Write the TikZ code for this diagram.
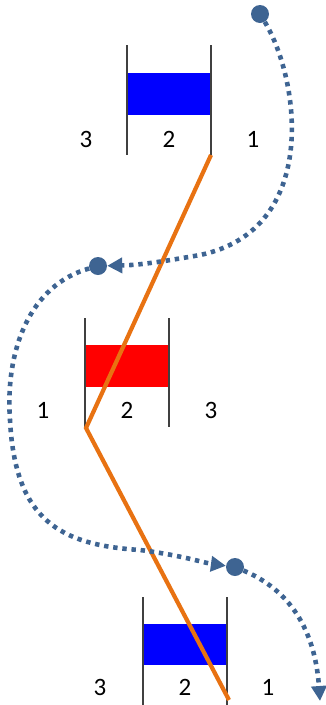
\documentclass[tikz,border=0pt]{standalone}
\usepackage{fontspec}
\setmainfont{Carlito}
\usetikzlibrary{arrows.meta}
\definecolor{bardark}{RGB}{64,64,64}
\definecolor{flowblue}{RGB}{62,100,146}
\definecolor{pathorange}{RGB}{232,114,18}
\tikzset{
  x=1pt,y=-1pt,
  wall/.style={draw=bardark,line width=2.4pt},
  lbl/.style={font=\fontsize{25}{28}\selectfont,text=black,inner sep=0pt},
  flow/.style={draw=flowblue,line width=4.6pt,dash pattern=on 4.4pt off 4.8pt,
     -{Triangle[length=15pt,width=15pt,flowblue]}},
  blob/.style={circle,fill=flowblue,minimum size=18pt,inner sep=0pt},
  zig/.style={draw=pathorange,line width=4.2pt,line join=miter}
}
\begin{document}
\begin{tikzpicture}
\useasboundingbox (0,0) rectangle (326,705);
% top unit
\fill[blue] (127,73) rectangle (211,115);
\draw[wall] (127,45) -- (127,155);
\draw[wall] (211,45) -- (211,155);
\node[lbl] (t3) at (86,139) {3};
\node[lbl] (t2) at (169,139) {2};
\node[lbl] (t1) at (253,139) {1};
% middle unit
\fill[red] (85,345) rectangle (169,387);
\draw[wall] (85,318) -- (85,427);
\draw[wall] (169,318) -- (169,427);
\node[lbl] (m1) at (43,410) {1};
\node[lbl] (m2) at (127,410) {2};
\node[lbl] (m3) at (211,410) {3};
% bottom unit
\fill[blue] (143,624) rectangle (227,665);
\draw[wall] (143,597) -- (143,705);
\draw[wall] (227,597) -- (227,705);
\node[lbl] (b3) at (100,687) {3};
\node[lbl] (b2) at (185,687) {2};
\node[lbl] (b1) at (268,687) {1};
% orange path
\coordinate (o1) at (211,155);
\coordinate (o2) at (86,428);
\coordinate (o3) at (229,700);
\draw[zig] (o1) -- (o2) -- (o3);
% blue flow
\node[blob] (d1) at (260,14) {};
\node[blob] (d2) at (98,266) {};
\node[blob] (d3) at (235,567) {};
\coordinate (e4) at (320,701);
\draw[flow] (d1) .. controls (300,80) and (320,230) .. (200,255) .. controls (160,262) and (140,265) .. (d2);
\draw[flow] (d2) .. controls (30,285) and (5,350) .. (10,420) .. controls (15,520) and (60,545) .. (140,550) .. controls (180,555) and (205,563) .. (d3);
\draw[flow] (d3) .. controls (290,590) and (315,630) .. (e4);
\end{tikzpicture}
\end{document}
